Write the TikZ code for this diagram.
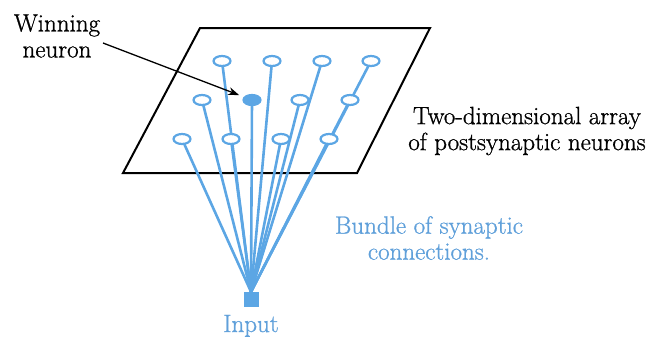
\documentclass[tikz,border=0pt]{standalone}
\usepackage{fontspec}
\newfontfamily\capfont{Latin Modern Roman}[FakeBold=0.9]
\usetikzlibrary{shapes.geometric,arrows.meta}
\definecolor{synblue}{RGB}{92,166,228}
\definecolor{labelblue}{RGB}{96,160,218}
\pgfdeclarelayer{plane}
\pgfdeclarelayer{wires}
\pgfsetlayers{plane,wires,main}
\tikzset{
  neuron/.style={ellipse,draw=synblue,line width=2.2pt,fill=white,
    minimum width=17pt,minimum height=10pt,inner sep=0pt},
  winner/.style={neuron,fill=synblue},
  inputbox/.style={rectangle,fill=synblue,minimum size=15pt,inner sep=0pt},
  wire/.style={draw=synblue,line width=2.6pt},
  caption/.style={font=\capfont\fontsize{25}{26}\selectfont,align=center,inner sep=0pt},
  pointer/.style={draw=black,line width=1.3pt,-{Stealth[length=11pt,width=8pt]}}
}
\begin{document}
\begin{tikzpicture}[x=1pt,y=-1pt]
\useasboundingbox (0,0) rectangle (647,338);

% the sheet of output neurons
\begin{pgfonlayer}{plane}
\draw[line width=2pt,line join=miter] (200,28) -- (430,28) -- (357,173) -- (123,173) -- cycle;
\end{pgfonlayer}

% neurons on the sheet
\node[neuron] (n11) at (222,61) {};
\node[neuron] (n12) at (272,61) {};
\node[neuron] (n13) at (322,61) {};
\node[neuron] (n14) at (371,61) {};
\node[neuron] (n21) at (202,100) {};
\node[winner] (n22) at (252,100) {};
\node[neuron] (n23) at (300,100) {};
\node[neuron] (n24) at (350,100) {};
\node[neuron] (n31) at (182,139) {};
\node[neuron] (n32) at (231,139) {};
\node[neuron] (n33) at (281,139) {};
\node[neuron] (n34) at (329,139) {};

% input unit
\node[inputbox] (in) at (251,299.5) {};

% bundle of synaptic connections
\begin{pgfonlayer}{wires}
\foreach \n in {n11,n12,n13,n14,n21,n22,n23,n24,n31,n32,n33,n34}
  \draw[wire] (in.north) -- (\n.center);
\end{pgfonlayer}

% labels
\node[caption] (wlab) at (57,36) {Winning\\neuron};
\coordinate (wstart) at (103,43);
\draw[pointer,shorten >=5pt] (wstart) -- (n22);

\node[caption] (sheet) at (527,131) {Two-dimensional array\\of postsynaptic neurons};
\node[caption,text=labelblue] (bundle) at (429,238) {Bundle of synaptic\\connections.};
\node[caption,text=labelblue,anchor=base] (inlab) at (251,332) {Input};
\end{tikzpicture}
\end{document}
